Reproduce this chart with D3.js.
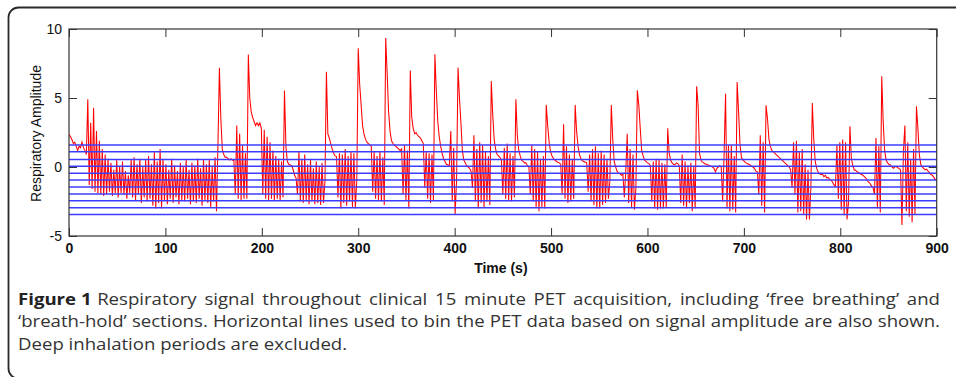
<!DOCTYPE html>
<html>
<head>
<meta charset="utf-8">
<script src="https://cdn.jsdelivr.net/npm/d3@7"></script>
<style>
  html, body { margin: 0; padding: 0; background: #fff; }
  svg { display: block; }
</style>
</head>
<body>
<svg id="fig" width="956" height="377"></svg>
<script>
// Respiratory amplitude, one sample every 1.5 s from 0 to 900 s
var sampleStep = 1.5;
var amplitude = [
  2.4, 2.2, 2.0, 1.7, 1.8, 1.5, 1.2, 1.5, 1.4, 1.8, 1.4, 1.2, 0.9,
  4.9, -1.3, 3.2, -1.6, 4.3, -1.8, 2.6, -1.9, 1.9, -2.0, 1.3, -2.1,
  0.9, -2.0, 0.6, -1.8, 0.3, -2.1, -0.2, -1.9, 0.5, -2.2, 0.0, -1.9, 0.4, -2.0, -0.3, -2.3,
  -0.6, -1.9, 0.5, -2.2, 0.7, -2.4, 0.2, -2.0, 0.6, -2.6, 0.0, -2.2, 0.5, -2.5, 0.8, -2.3,
  0.2, -2.8, 1.1, -3.0, 0.4, -2.6, 1.3, -3.0, 0.6, -2.4, 0.2, -2.7, -0.2, -2.3, 0.6, -2.6,
  0.1, -2.2, -0.3, -2.7, 0.3, -2.4, 0.0, -2.5, 0.5, -2.3, -0.2, -2.7, 0.3, -2.5, 0.1, -2.6,
  0.6, -2.3, -0.1, -2.8, 0.5, -2.4, 0.2, -2.6, 0.5, -2.9, 0.0, -2.5, 0.7,
  -3.2, 1.6,
  7.2, 3.5, 1.3, 0.9, 0.7, 0.7, 0.6, 0.5, 0.6, 0.5,
  0.5, -2.0, 3.0, -2.3, 2.4, -2.4, 1.6, -2.3, 1.0, -2.3,
  8.15, 5.0, 4.0, 3.6, 3.3, 3.0, 3.2, 3.0, 3.2, 2.8,
  -2.0, 2.7, -2.3, 2.2, -2.4, 1.8, -2.3, 1.2, -2.4, 0.8, -2.3, 0.6, -2.4, 0.4, -2.2,
  5.55, 1.5, 0.4, 0.2, 0.15, 0.1, -0.2, -0.6, -0.8,
  -2.0, 1.1, -2.5, 0.6, -2.6, 0.9, -2.4, 0.2, -2.7, 0.5, -2.5, -0.1, -2.7, 0.4, -2.6, 0.0, -2.75, 0.3, -2.6, -1.0,
  6.9, 2.4, 2.1, 1.7, 1.3, 1.0, 0.8, 0.75,
  -2.2, 1.0, -3.0, 0.9, -2.6, 1.3, -2.8, 0.8, -2.5, 1.1, -2.9, 1.0, -3.0, -1.0,
  8.6, 6.0, 4.5, 3.0, 2.4, 2.0, 1.8, 1.7, 1.6, 1.5,
  -1.8, 1.1, -2.3, 0.8, -2.4, 1.1, -2.5, 0.7, -2.75,
  9.35, 6.8, 4.0, 2.6, 1.9, 1.7, 1.6, 1.5, 1.4, 1.3, 1.2,
  1.3, -2.0, 1.6, -2.4, 1.2, -3.0,
  7.0, 3.6, 2.8, 2.4, 2.5, 2.3, 2.2, 2.1, 1.9, 1.7,
  -1.5, 1.1, -2.3, 1.0, -2.6, 0.9, -2.4,
  8.17, 5.5, 3.3, 2.2, 1.5, 1.0, 0.6, 0.4, 0.2, 0.15,
  0.1, 2.6, -2.5, 1.4, -3.4, -1.0,
  7.2, 5.0, 3.2, 1.2, 0.5, 0.3, 0.1, 0.0, -0.1, -0.3,
  -1.5, 2.3, -2.5, 1.3, -3.0, 1.8, -2.6, 1.6, -2.9, 1.1, -2.5, 0.8, -2.75,
  6.23, 3.8, 2.0, 1.3, 0.9, 0.8, 0.7, 0.5,
  -2.0, 1.4, -2.3, 1.7, -2.4, 1.0, -2.5, 0.8, -2.2,
  4.9, 2.3, 1.2, 0.8, 0.5, 0.4, 0.3, 0.3, 0.1, 0.0,
  -2.0, 1.6, -2.5, 1.3, -2.9, 1.1, -3.2, 0.6, -2.9, 0.8, -3.0,
  4.5, 3.0, 1.8, 1.1, 0.8, 0.6, 0.5, 0.4, 0.35, 0.3, 0.2,
  -2.0, 3.1, -2.3, 1.5, -2.6, 0.9, -2.5, 0.6, -2.3,
  4.5, 2.6, 1.5, 0.9, 0.6, 0.45, 0.4, 0.35, 0.3,
  -1.8, 0.9, -2.5, 1.3, -2.75, 1.5, -3.0, 1.0, -3.0, 1.2, -2.75, 0.9, -2.6, 0.6, -2.3, -1.0,
  4.5, 2.0, 0.4, 0.0, -0.3, -0.45, -0.5, -0.6, -0.5,
  -2.2, -0.3, 2.4, -2.6, 1.3, -2.9, 0.9, -3.1, -1.5,
  5.56, 4.5, 2.8, 1.2, 0.8, 0.5, 0.4, 0.3, 0.25, 0.1,
  -2.5, 0.4, -3.0, 0.6, -3.1, 0.5, -3.0, 0.3, -3.0, 0.2, -2.9,
  2.8, 1.0, 0.5, 0.3, 0.2, 0.15, 0.3, 0.25, 0.1,
  -2.6, 0.9, -2.8, 0.4, -3.0, 0.1, -2.6, 0.3, -3.2, 0.0, -3.0,
  5.85, 4.5, 1.0, 0.5, 0.35, 0.3, 0.2, 0.2, 0.15, 0.1, 0.05, 0.0, -0.1, -0.35, -0.1, 0.0, 0.1, 0.0,
  -2.5, 1.0, 5.3, -3.0, 1.6, -3.2, 1.6, -3.1, 0.8, -3.3,
  6.16, 4.0, 1.6, 0.7, 0.5, 0.4, 0.3, 0.25, 0.2, 0.15, 0.05, 0.0, -0.1, -0.3, -0.35,
  -2.0, 2.3, -2.8, 1.8, -3.3,
  4.47, 3.5, 2.0, 1.5, 1.2, 1.1, 1.0, 0.9, 0.8, 0.7, 0.6, 0.5, 0.4, 0.3, 0.2, 0.1, 0.0, -0.2,
  -1.5, 1.8, -2.0, 1.9, -3.3, 1.1, -3.2, 1.3, -3.4, 0.2, -3.8, -0.2, -3.8, -1.5,
  4.64, 2.0, 0.4, -0.1, -0.35, -0.5, -0.55, -0.5, -0.7, -0.6, -0.8, -0.75, -0.9, -0.95, -1.1, -1.3, -1.4,
  1.6, -2.3, 1.8, -3.1, 2.0, -3.5, 1.8, -3.8, -2.6,
  2.95, 0.6, 0.1, -0.2, -0.25, -0.35, -0.4, -0.5, -0.55, -0.6, -0.7, -0.8, -1.0, -1.1, -1.2, -1.4, -1.5,
  -2.0, 2.1, -3.0, 1.5, -3.3,
  6.57, 3.3, 1.2, 0.5, 0.3, 0.2, 0.15, 0.0, -0.1, 0.0, 0.05, -0.05, -0.1, -0.2,
  -4.2, 1.2, 3.0, -3.2, 1.8, -3.6, 0.6, -4.0, 1.3, -3.4,
  4.4, 2.8, 0.9, 0.2, 0.0, -0.1, -0.2, -0.15, -0.3, -0.4, -0.55, -0.6, -0.75, -0.9, -1.0
];

// amplitude thresholds used to bin the PET data
var binLevels = [1.6, 1.1, 0.55, 0.05, -0.45, -0.95, -1.45, -1.95, -2.45, -2.95, -3.45];

var xTicks = [0, 100, 200, 300, 400, 500, 600, 700, 800, 900];
var yTicks = [-5, 0, 5, 10];
var xLabel = "Time (s)";
var yLabel = "Respiratory Amplitude";

var captionLabel = "Figure 1";
var captionLines = [
  "Respiratory signal throughout clinical 15 minute PET acquisition, including \u2018free breathing\u2019 and",
  "\u2018breath-hold\u2019 sections. Horizontal lines used to bin the PET data based on signal amplitude are also shown.",
  "Deep inhalation periods are excluded."
];

var svg = d3.select("#fig");

// outer rounded frame (right and bottom sides run off the picture)
svg.append("rect")
  .attr("x", 8.5).attr("y", 7.5)
  .attr("width", 1000).attr("height", 371)
  .attr("rx", 10).attr("ry", 10)
  .attr("fill", "none")
  .attr("stroke", "#2a2a2a")
  .attr("stroke-width", 1.8);

var plot = { left: 69, right: 936.7, top: 29, bottom: 236 };

var x = d3.scaleLinear().domain([0, 900]).range([plot.left, plot.right]);
var y = d3.scaleLinear().domain([-5, 10]).range([plot.bottom, plot.top]);

svg.append("clipPath").attr("id", "plotClip")
  .append("rect")
  .attr("x", plot.left).attr("y", plot.top)
  .attr("width", plot.right - plot.left).attr("height", plot.bottom - plot.top);

// signal
var line = d3.line()
  .x((d, i) => x(i * sampleStep))
  .y(d => y(d));

svg.append("path")
  .datum(amplitude)
  .attr("clip-path", "url(#plotClip)")
  .attr("fill", "none")
  .attr("stroke", "#ff0000")
  .attr("stroke-width", 1.05)
  .attr("d", line);

// binning lines
svg.append("g")
  .selectAll("line")
  .data(binLevels)
  .enter()
  .append("line")
  .attr("x1", plot.left).attr("x2", plot.right)
  .attr("y1", d => y(d)).attr("y2", d => y(d))
  .attr("stroke", "#3c3cff")
  .attr("stroke-width", 1.5);

// axes, MATLAB style: ticks pointing inward on all four sides
var axisColor = "#333";
var tickFont = "'Liberation Sans', Arial, sans-serif";

function styleAxis(g) {
  g.select(".domain").remove();
  g.selectAll(".tick line").attr("stroke", axisColor);
  g.selectAll(".tick text")
    .attr("fill", "#111")
    .style("font-family", tickFont)
    .style("font-size", "14px");
}

svg.append("g")
  .attr("transform", "translate(0," + plot.bottom + ")")
  .call(d3.axisBottom(x).tickValues(xTicks).tickSize(-8).tickPadding(7).tickFormat(d3.format("d")))
  .call(styleAxis)
  .selectAll(".tick text").style("font-weight", "bold");

svg.append("g")
  .attr("transform", "translate(0," + plot.top + ")")
  .call(d3.axisTop(x).tickValues(xTicks).tickSize(-8).tickFormat(""))
  .call(styleAxis);

svg.append("g")
  .attr("transform", "translate(" + plot.left + ",0)")
  .call(d3.axisLeft(y).tickValues(yTicks).tickSize(-8).tickPadding(7).tickFormat(d => d < 0 ? "-" + Math.abs(d) : d))
  .call(styleAxis);

svg.append("g")
  .attr("transform", "translate(" + plot.right + ",0)")
  .call(d3.axisRight(y).tickValues(yTicks).tickSize(-8).tickFormat(""))
  .call(styleAxis);

// axes box
svg.append("rect")
  .attr("x", plot.left).attr("y", plot.top)
  .attr("width", plot.right - plot.left).attr("height", plot.bottom - plot.top)
  .attr("fill", "none")
  .attr("stroke", axisColor)
  .attr("stroke-width", 1.2);

// axis titles
svg.append("text")
  .attr("x", (plot.left + plot.right) / 2 - 2)
  .attr("y", 273)
  .attr("text-anchor", "middle")
  .style("font-family", tickFont)
  .style("font-size", "14px")
  .style("font-weight", "bold")
  .attr("fill", "#111")
  .text(xLabel);

svg.append("text")
  .attr("transform", "translate(41," + ((plot.top + plot.bottom) / 2 + 1) + ") rotate(-90)")
  .attr("text-anchor", "middle")
  .style("font-family", tickFont)
  .style("font-size", "14px")
  .attr("fill", "#111")
  .text(yLabel);

// caption: a slightly condensed face, first two lines justified
var capLeft = 18, capRight = 940, capFontSize = 16.5;
var capBaselines = [305, 327.5, 350];
var capGroup = svg.append("g")
  .style("font-family", "'Open Sans', 'Noto Sans', sans-serif")
  .style("font-size", capFontSize + "px")
  .attr("fill", "#333");

var labelText = capGroup.append("text")
  .attr("x", 0).attr("y", capBaselines[0])
  .style("font-weight", "bold")
  .attr("fill", "#222")
  .text(captionLabel);
var labelWidth = labelText.node().getComputedTextLength() + capFontSize * 0.3;

var capTexts = captionLines.map(function(str, i) {
  return capGroup.append("text")
    .attr("x", i === 0 ? labelWidth : 0)
    .attr("y", capBaselines[i])
    .text(str);
});

// squeeze horizontally so the longest line nearly fills the column
var sx = (capRight - capLeft - 4) / capTexts[1].node().getComputedTextLength();
capGroup.attr("transform", "translate(" + capLeft + ",0) scale(" + sx + ",1)");

[0, 1].forEach(function(i) {
  var t = capTexts[i];
  var avail = (capRight - capLeft) / sx - (i === 0 ? labelWidth : 0);
  var spaces = captionLines[i].split(" ").length - 1;
  var w = t.node().getComputedTextLength();
  t.style("word-spacing", ((avail - w) / spaces).toFixed(3) + "px");
});
</script>
</body>
</html>
